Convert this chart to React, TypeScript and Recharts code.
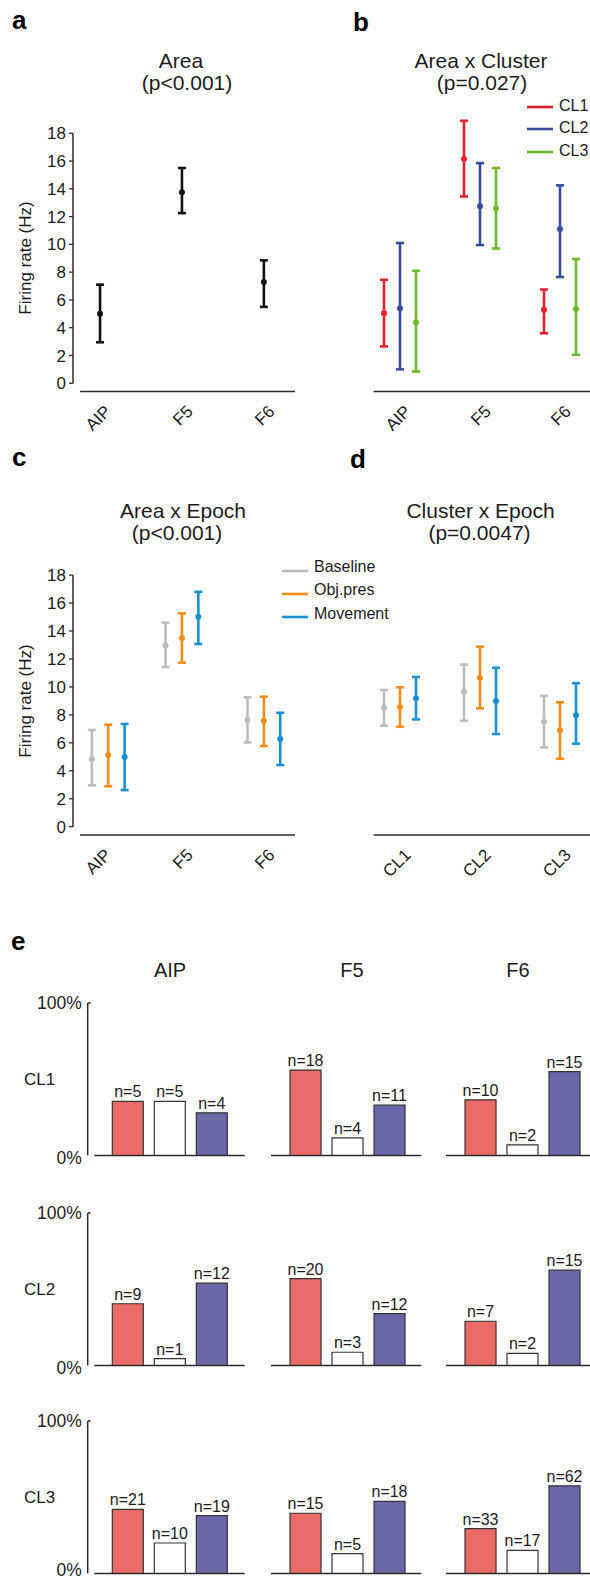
import React from 'react';
import {
  ScatterChart, Scatter, ErrorBar, XAxis, YAxis, ReferenceLine, Legend,
  BarChart, Bar, Cell, LabelList,
} from 'recharts';

const FONT = '"Liberation Sans", Arial, Helvetica, sans-serif';
const INK = '#2b2b2b';
const TXT = '#1c1c1c';

// ---- panels a-d: firing rates (Hz), mean with lower / upper bound ----
const areas = ['AIP', 'F5', 'F6'];
const clusters = ['CL1', 'CL2', 'CL3'];
const yTicks = [0, 2, 4, 6, 8, 10, 12, 14, 16, 18];

// a: Area
const areaMean = [5.0, 13.75, 7.3];
const areaLow = [2.95, 12.25, 5.5];
const areaHigh = [7.1, 15.5, 8.85];

// b: Area x Cluster (one row per cluster, one value per area)
const clusterColors = ['#e8212b', '#3b4d9c', '#6cbb2b'];
const clMean = [[5.05, 16.15, 5.3], [5.4, 12.75, 11.1], [4.4, 12.6, 5.35]];
const clLow = [[2.65, 13.45, 3.6], [1.0, 9.95, 7.65], [0.85, 9.7, 2.05]];
const clHigh = [[7.45, 18.9, 6.75], [10.1, 15.85, 14.25], [8.1, 15.5, 8.95]];

// c: Area x Epoch (one row per epoch, one value per area)
const epochs = ['Baseline', 'Obj.pres', 'Movement'];
const epochColors = ['#bcbcbc', '#f28c1c', '#1a90d4'];
const aeMean = [[4.82, 12.97, 7.63], [5.13, 13.5, 7.58], [4.99, 15.02, 6.27]];
const aeLow = [[2.96, 11.42, 6.03], [2.89, 11.73, 5.77], [2.62, 13.07, 4.41]];
const aeHigh = [[6.92, 14.6, 9.25], [7.3, 15.26, 9.3], [7.35, 16.8, 8.15]];
const aeGroupX = [0.1, 1, 2]; // AIP group sits a little right of its tick in the original

// d: Cluster x Epoch (one row per epoch, one value per cluster)
const ceMean = [[8.51, 9.68, 7.49], [8.56, 10.66, 6.9], [9.18, 8.99, 7.97]];
const ceLow = [[7.23, 7.58, 5.68], [7.15, 8.47, 4.86], [7.68, 6.63, 5.94]];
const ceHigh = [[9.78, 11.6, 9.35], [9.97, 12.88, 8.9], [10.71, 11.37, 10.26]];

// ---- panel e: percentage of neurons, per cluster row and area group ----
const barColors = ['#eb6b66', '#ffffff', '#6a68a9'];
const pctCL1 = [[35.5, 35.5, 28], [56, 11.5, 33], [36.5, 7, 55]];
const pctCL2 = [[40.5, 4.5, 54], [57, 8.7, 34], [29, 8, 62.5]];
const pctCL3 = [[42, 20, 38], [39.5, 13, 47.3], [29.4, 15.2, 57.5]];
const nCL1 = [[5, 5, 4], [18, 4, 11], [10, 2, 15]];
const nCL2 = [[9, 1, 12], [20, 3, 12], [7, 2, 15]];
const nCL3 = [[21, 10, 19], [15, 5, 18], [33, 17, 62]];

const Y_MIN = -0.6;
const Y_MAX = 20;

type Series = { name: string; color: string; mean: number[]; low: number[]; high: number[]; offset: number; gx?: number[] };

function buildPoints(s: Series) {
  return s.mean.map((m, i) => ({
    x: (s.gx ? s.gx[i] : i) + s.offset,
    y: m,
    err: [m - s.low[i], s.high[i] - m],
  }));
}

function SlantTick(props: any) {
  const { x, y, payload, labels } = props;
  return (
    <text
      transform={`translate(${x + 8},${y + 17}) rotate(-45)`}
      textAnchor="end"
      dominantBaseline="central"
      fontSize={17}
      fontFamily={FONT}
      fill={TXT}
    >
      {labels[Math.round(payload.value)]}
    </text>
  );
}

function LegendBox({ names, colors, lineY, textY }: any) {
  return (
    <svg width={120} height={80} style={{ overflow: 'visible' }}>
      {names.map((n: string, i: number) => (
        <g key={n}>
          <line x1={7} x2={33} y1={lineY[i]} y2={lineY[i]} stroke={colors[i]} strokeWidth={2.6} />
          <text x={39} y={textY[i]} fontSize={16} fontFamily={FONT} fill={TXT}>{n}</text>
        </g>
      ))}
    </svg>
  );
}

function ErrPanel(props: any) {
  const { left, top, width, marginTop, marginLeft, plotH, showY, cats, series, xStart, xDomain, legend } = props;
  const height = marginTop + plotH + 50;
  return (
    <div style={{ position: 'absolute', left, top }}>
      <ScatterChart width={width} height={height} margin={{ top: marginTop, right: 0, bottom: 0, left: marginLeft }}>
        <XAxis
          type="number"
          dataKey="x"
          domain={xDomain}
          ticks={[0, 1, 2]}
          interval={0}
          allowDataOverflow
          axisLine={false}
          tickLine={false}
          tickSize={0}
          tickMargin={0}
          height={50}
          tick={(p: any) => <SlantTick {...p} labels={cats} />}
        />
        <YAxis
          type="number"
          dataKey="y"
          domain={[Y_MIN, Y_MAX]}
          ticks={yTicks}
          interval={0}
          allowDataOverflow
          hide={!showY}
          width={40}
          axisLine={false}
          tickLine={{ stroke: INK, strokeWidth: 1.3 }}
          tickSize={4}
          tickMargin={3}
          tick={{ fontSize: 17, fill: TXT, fontFamily: FONT }}
        />
        {showY && (
          <ReferenceLine
            segment={[{ x: xDomain[0], y: 0 }, { x: xDomain[0], y: 18 }]}
            stroke={INK}
            strokeWidth={1.5}
            ifOverflow="visible"
          />
        )}
        <ReferenceLine
          segment={[{ x: xStart, y: Y_MIN }, { x: xDomain[1], y: Y_MIN }]}
          stroke={INK}
          strokeWidth={1.5}
          ifOverflow="visible"
        />
        {series.map((s: Series) => (
          <Scatter
            key={s.name}
            name={s.name}
            data={buildPoints(s)}
            fill={s.color}
            isAnimationActive={false}
            shape={(p: any) => <circle cx={p.cx} cy={p.cy} r={3} fill={s.color} />}
          >
            <ErrorBar dataKey="err" direction="y" width={4} stroke={s.color} strokeWidth={2.6} isAnimationActive={false} />
          </Scatter>
        ))}
        {legend}
      </ScatterChart>
    </div>
  );
}

const PX_PER_UNIT = 42;
const E_MAX = 2.77;
const colPlotLeft = [87.7, 271, 446];
const colDomainMin = [-0.967, -0.81, -0.81];
const rowTops = [1003, 1213, 1421];
const E_PLOT_H = 152.5;

function MiniBars({ col, top, pct, counts, tickDy }: any) {
  const showY = col === 0;
  const dMin = colDomainMin[col];
  const plotW = (E_MAX - dMin) * PX_PER_UNIT;
  const yw = showY ? 60 : 0;
  const ml = showY ? colPlotLeft[col] - yw : 0;
  const left = showY ? 0 : colPlotLeft[col];
  const width = ml + yw + plotW + 2;
  const data = pct.map((v: number, i: number) => ({ k: i, v, n: `n=${counts[i]}` }));
  return (
    <div style={{ position: 'absolute', left, top: top - 14 }}>
      <BarChart width={width} height={E_PLOT_H + 28} data={data} margin={{ top: 14, right: 2, bottom: 14, left: ml }}>
        <XAxis type="number" dataKey="k" domain={[dMin, E_MAX]} ticks={[0, 1, 2]} allowDataOverflow hide />
        <YAxis
          type="number"
          domain={[0, 100]}
          ticks={[0, 100]}
          interval={0}
          allowDataOverflow
          hide={!showY}
          width={yw}
          axisLine={{ stroke: INK, strokeWidth: 1.5 }}
          tickLine={false}
          tickSize={0}
          tickMargin={6}
          tickFormatter={(v: number) => `${v}%`}
          tick={(p: any) => (
            <text x={p.x} y={p.y + (p.payload.value === 0 ? tickDy : 0)} textAnchor="end" dominantBaseline="central"
              fontSize={17.5} fill={TXT} fontFamily={FONT}>
              {`${p.payload.value}%`}
            </text>
          )}
        />
        {showY && (
          <ReferenceLine segment={[{ x: dMin, y: 100 }, { x: dMin + 0.07, y: 100 }]} stroke={INK} strokeWidth={1.5} ifOverflow="visible" />
        )}
        <ReferenceLine segment={[{ x: -0.81, y: 0 }, { x: E_MAX, y: 0 }]} stroke={INK} strokeWidth={1.5} ifOverflow="visible" />
        <Bar dataKey="v" barSize={31} stroke="#333" strokeWidth={1.2} isAnimationActive={false}>
          {data.map((d: any, i: number) => (
            <Cell key={d.k} fill={barColors[i]} />
          ))}
          <LabelList dataKey="n" position="top" offset={4} style={{ fontSize: 16, fill: TXT, fontFamily: FONT }} />
        </Bar>
      </BarChart>
    </div>
  );
}

export default function App() {
  const sA: Series[] = [{ name: 'Area', color: '#111111', mean: areaMean, low: areaLow, high: areaHigh, offset: 0 }];
  const sB: Series[] = clusters.map((c, i) => ({
    name: c, color: clusterColors[i], mean: clMean[i], low: clLow[i], high: clHigh[i], offset: (i - 1) * 0.2,
  }));
  const sC: Series[] = epochs.map((e, i) => ({
    name: e, color: epochColors[i], mean: aeMean[i], low: aeLow[i], high: aeHigh[i], offset: (i - 1) * 0.2, gx: aeGroupX,
  }));
  const sD: Series[] = epochs.map((e, i) => ({
    name: e, color: epochColors[i], mean: ceMean[i], low: ceLow[i], high: ceHigh[i], offset: (i - 1) * 0.2,
  }));

  const legendB = (
    <Legend
      layout="horizontal"
      verticalAlign="middle"
      align="center"
      wrapperStyle={{ left: 220, top: 90, width: 120, height: 80 }}
      content={() => <LegendBox names={clusters} colors={clusterColors} lineY={[17, 39, 62]} textY={[20.5, 43, 66]} />}
    />
  );
  const legendC = (
    <Legend
      layout="horizontal"
      verticalAlign="middle"
      align="center"
      wrapperStyle={{ left: 275, top: 110, width: 120, height: 80 }}
      content={() => <LegendBox names={epochs} colors={epochColors} lineY={[21, 44, 67]} textY={[21.5, 45, 69]} />}
    />
  );

  const rowPct = [pctCL1, pctCL2, pctCL3];
  const rowN = [nCL1, nCL2, nCL3];
  const rowLabels = ['CL1', 'CL2', 'CL3'];
  const rowTickDy = [3, 3, -3];
  const headerX = [170, 352, 518];

  return (
    <div style={{ position: 'absolute', left: 0, top: 0, width: 590, height: 1579, overflow: 'hidden', background: '#fff', fontFamily: FONT }}>
      <ErrPanel left={0} top={0} width={295} marginTop={105.5} marginLeft={33} plotH={286.1} showY cats={areas}
        series={sA} xStart={-0.244} xDomain={[-0.33, 2.38]} />
      <ErrPanel left={300} top={0} width={290} marginTop={105.5} marginLeft={73.6} plotH={286.1} showY={false} cats={areas}
        series={sB} xStart={-0.33} xDomain={[-0.33, 2.375]} legend={legendB} />
      <ErrPanel left={0} top={440} width={295} marginTop={107.1} marginLeft={33} plotH={288} showY cats={areas}
        series={sC} xStart={-0.244} xDomain={[-0.33, 2.38]} legend={legendC} />
      <ErrPanel left={300} top={440} width={290} marginTop={107.1} marginLeft={73.6} plotH={288} showY={false} cats={clusters}
        series={sD} xStart={-0.33} xDomain={[-0.33, 2.375]} />

      {rowTops.map((t, r) =>
        areas.map((a, c) => (
          <MiniBars key={`${r}-${a}`} col={c} top={t} pct={rowPct[r][c]} counts={rowN[r][c]} tickDy={rowTickDy[r]} />
        ))
      )}

      <svg width={590} height={1579} style={{ position: 'absolute', left: 0, top: 0, pointerEvents: 'none' }} fontFamily={FONT}>
        <g fontWeight="bold" fontSize={26} fill="#000">
          <text x={12} y={29}>a</text>
          <text x={353} y={31}>b</text>
          <text x={12} y={466}>c</text>
          <text x={350} y={468}>d</text>
          <text x={11} y={950}>e</text>
        </g>
        <g fontSize={21} fill={TXT} textAnchor="middle">
          <text x={181} y={68}>Area</text>
          <text x={187} y={90}>(p&lt;0.001)</text>
          <text x={481} y={68}>Area x Cluster</text>
          <text x={482} y={90}>(p=0.027)</text>
          <text x={183} y={518}>Area x Epoch</text>
          <text x={177} y={540}>(p&lt;0.001)</text>
          <text x={480.5} y={518}>Cluster x Epoch</text>
          <text x={479.5} y={540}>(p=0.0047)</text>
        </g>
        <g fontSize={17} fill={TXT} textAnchor="middle">
          <text transform="translate(25,258) rotate(-90)" dominantBaseline="central">Firing rate (Hz)</text>
          <text transform="translate(25,701) rotate(-90)" dominantBaseline="central">Firing rate (Hz)</text>
        </g>
        <g fontSize={20} fill={TXT} textAnchor="middle">
          {areas.map((a, i) => (
            <text key={a} x={headerX[i]} y={977}>{a}</text>
          ))}
        </g>
        <g fontSize={17} fill={TXT} textAnchor="middle">
          {rowLabels.map((l, i) => (
            <text key={l} x={39.5} y={rowTops[i] + E_PLOT_H / 2} dominantBaseline="central">{l}</text>
          ))}
        </g>
      </svg>
    </div>
  );
}
